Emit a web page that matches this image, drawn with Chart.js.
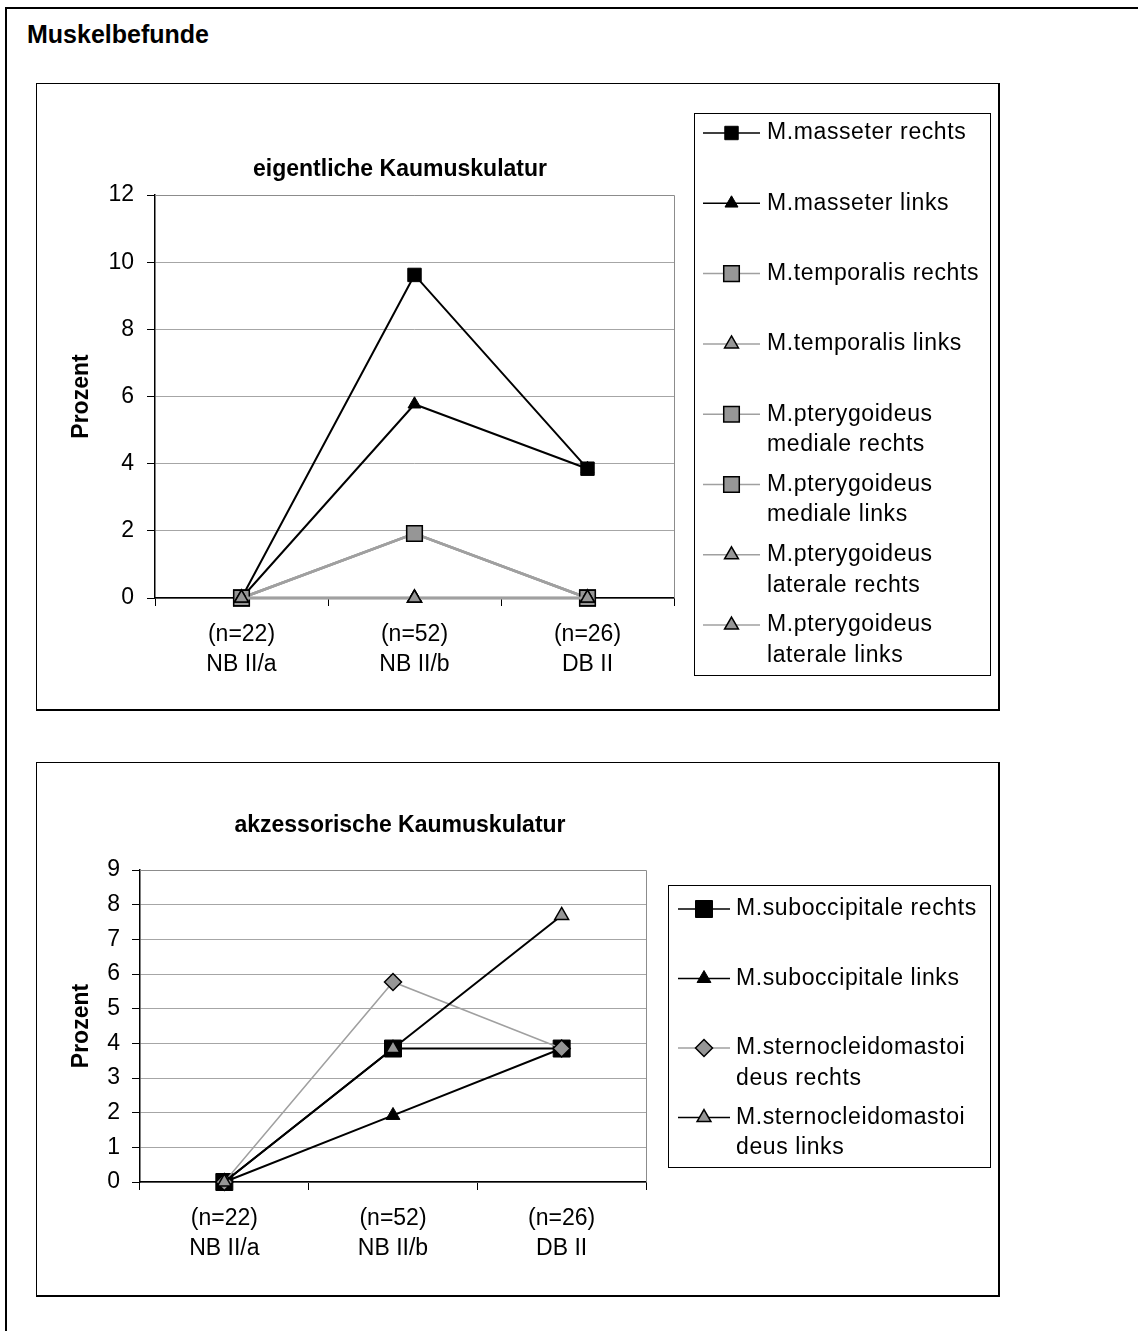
<!DOCTYPE html>
<html>
<head>
<meta charset="utf-8">
<script src="https://cdn.jsdelivr.net/npm/chart.js@4.4.1/dist/chart.umd.min.js"></script>
<style>
body { margin: 0; background: #fff; width: 1138px; height: 1331px; overflow: hidden; position: relative; font-family: 'Liberation Sans', Arial, sans-serif; }
#frame { position: absolute; left: 5px; top: 7px; width: 1200px; height: 1400px; border-left: 2px solid #000; border-top: 2px solid #000; }
#heading { position: absolute; left: 27px; top: 19px; font-weight: bold; font-size: 25px; line-height: 30px; }
.box { position: absolute; left: 36px; width: 964px; border: 1px solid #000; border-right-width: 2px; border-bottom-width: 2px; box-sizing: border-box; }
.box canvas { position: absolute; left: -1px; top: -1px; }
</style>
</head>
<body>
<div id="frame"></div>
<div id="heading">Muskelbefunde</div>
<div class="box" style="top:83px; height:628px;"><canvas id="chart-1" width="964" height="628"></canvas></div>
<div class="box" style="top:762px; height:535px;"><canvas id="chart-2" width="964" height="535"></canvas></div>
<script>
// groups on the x axis
const groups = ['NB II/a', 'NB II/b', 'DB II'];
const group_sizes = ['(n=22)', '(n=52)', '(n=26)'];

// eigentliche Kaumuskulatur (Prozent)
const masseter_rechts = [0, 9.62, 3.85];
const masseter_links = [0, 5.77, 3.85];
const temporalis_rechts = [0, 1.92, 0];
const temporalis_links = [0, 0, 0];
const pterygoideus_med_rechts = [0, 1.92, 0];
const pterygoideus_med_links = [0, 1.92, 0];
const pterygoideus_lat_rechts = [0, 0, 0];
const pterygoideus_lat_links = [0, 0, 0];

// akzessorische Kaumuskulatur (Prozent)
const suboccipitale_rechts = [0, 3.85, 3.85];
const suboccipitale_links = [0, 1.92, 3.85];
const sterno_rechts = [0, 5.77, 3.85];
const sterno_links = [0, 3.85, 7.69];

const FONT = "'Liberation Sans', Arial, sans-serif";
const BLACK = '#000000';
const GREY_LINE = '#a0a0a0';
const GREY_FILL = '#969696';

const labels = groups.map((g, i) => [group_sizes[i], g]);

const series = (label, data, line, line_width, style, radius, fill, border_width) => ({
	label: label,
	data: data,
	borderColor: line,
	borderWidth: line_width,
	pointStyle: style,
	pointRadius: radius,
	pointBackgroundColor: fill,
	pointBorderColor: BLACK,
	pointBorderWidth: border_width,
	clip: false,
	tension: 0
});

// excel draws later series on top
const set_order = (datasets) => {
	datasets.forEach((ds, i) => { ds.order = datasets.length - i; });
	return datasets;
};

const title_plugin = {
	id: 'title_text',
	afterDraw(chart, args, opts) {
		const ctx = chart.ctx;
		ctx.save();
		ctx.font = 'bold 23px ' + FONT;
		ctx.fillStyle = BLACK;
		ctx.textAlign = 'center';
		ctx.textBaseline = 'middle';
		ctx.fillText(opts.text, opts.x, opts.y);
		ctx.restore();
	}
};

const plot_frame = {
	id: 'plot_frame',
	beforeDatasetsDraw(chart) {
		const a = chart.chartArea;
		const ctx = chart.ctx;
		ctx.save();
		ctx.strokeStyle = '#8c8c8c';
		ctx.lineWidth = 1;
		ctx.beginPath();
		ctx.moveTo(a.left, a.top + 0.5);
		ctx.lineTo(Math.round(a.right) + 0.5, a.top + 0.5);
		ctx.lineTo(Math.round(a.right) + 0.5, a.bottom);
		ctx.stroke();
		ctx.restore();
	}
};

const line_legend = {
	id: 'line_legend',
	afterDraw(chart, args, opts) {
		const ctx = chart.ctx;
		const b = opts.box;
		ctx.save();
		ctx.strokeStyle = BLACK;
		ctx.lineWidth = 1;
		ctx.strokeRect(b[0] + 0.5, b[1] + 0.5, b[2] - b[0], b[3] - b[1]);
		chart.data.datasets.forEach((ds, i) => {
			const y = opts.first + i * opts.step;
			ctx.beginPath();
			ctx.strokeStyle = ds.borderColor;
			ctx.lineWidth = 1.5;
			ctx.moveTo(opts.line_from, y);
			ctx.lineTo(opts.line_to, y);
			ctx.stroke();
			ctx.fillStyle = ds.pointBackgroundColor;
			ctx.strokeStyle = ds.pointBorderColor;
			ctx.lineWidth = ds.pointBorderWidth;
			Chart.helpers.drawPoint(ctx, {
				pointStyle: ds.pointStyle, radius: ds.pointRadius, rotation: 0, borderWidth: ds.pointBorderWidth
			}, (opts.line_from + opts.line_to) / 2, y);
			ctx.fillStyle = BLACK;
			ctx.font = '23px ' + FONT;
			ctx.textBaseline = 'middle';
			ctx.letterSpacing = '0.6px';
			ds.label.split('\n').forEach((t, k) => ctx.fillText(t, opts.text_x, y + k * 30.5));
			ctx.letterSpacing = '0px';
		});
		ctx.restore();
	}
};

const make_scales = (y_max, y_step, y_width, x_height, label_pad) => ({
	x: {
		offset: true,
		grid: { offset: true, drawOnChartArea: false, drawTicks: true, tickLength: 8, tickColor: BLACK, lineWidth: 1 },
		border: { color: BLACK, width: 1.5 },
		ticks: { color: BLACK, font: { family: FONT, size: 23, lineHeight: 1.3 }, padding: 14, maxRotation: 0, autoSkip: false },
		afterFit: (s) => { s.height = x_height; }
	},
	y: {
		min: 0,
		max: y_max,
		grid: { color: '#a6a6a6', tickColor: BLACK, tickLength: 8, lineWidth: 1 },
		border: { color: BLACK, width: 1.5 },
		ticks: { stepSize: y_step, color: BLACK, font: { family: FONT, size: 23 }, padding: label_pad },
		title: { display: true, text: 'Prozent', color: BLACK, font: { family: FONT, size: 23, weight: 'bold' }, padding: { top: 32, bottom: 0 } },
		afterFit: (s) => { s.width = y_width; }
	}
});

new Chart(document.getElementById('chart-1'), {
	type: 'line',
	data: {
		labels: labels,
		datasets: set_order([
			series('M.masseter rechts', masseter_rechts, BLACK, 2, 'rect', 9.5, BLACK, 1),
			series('M.masseter links', masseter_links, BLACK, 2, 'triangle', 7.5, BLACK, 1),
			series('M.temporalis rechts', temporalis_rechts, GREY_LINE, 2.5, 'rect', 11, GREY_FILL, 1.5),
			series('M.temporalis links', temporalis_links, GREY_LINE, 2.5, 'triangle', 8, GREY_FILL, 1.5),
			series('M.pterygoideus\nmediale rechts', pterygoideus_med_rechts, GREY_LINE, 2.5, 'rect', 11, GREY_FILL, 1.5),
			series('M.pterygoideus\nmediale links', pterygoideus_med_links, GREY_LINE, 2.5, 'rect', 11, GREY_FILL, 1.5),
			series('M.pterygoideus\nlaterale rechts', pterygoideus_lat_rechts, GREY_LINE, 2.5, 'triangle', 8, GREY_FILL, 1.5),
			series('M.pterygoideus\nlaterale links', pterygoideus_lat_links, GREY_LINE, 2.5, 'triangle', 8, GREY_FILL, 1.5)
		])
	},
	options: {
		responsive: false,
		animation: false,
		layout: { padding: { left: 0, right: 326, top: 112, bottom: 0 } },
		plugins: {
			legend: { display: false },
			tooltip: { enabled: false },
			title_text: { text: 'eigentliche Kaumuskulatur', x: 364, y: 87 },
			line_legend: { box: [658, 30, 954, 592], first: 50, step: 70.3, line_from: 667, line_to: 724, text_x: 731 }
		},
		scales: make_scales(12, 2, 119, 113, 13)
	},
	plugins: [plot_frame, title_plugin, line_legend]
});

new Chart(document.getElementById('chart-2'), {
	type: 'line',
	data: {
		labels: labels,
		datasets: set_order([
			series('M.suboccipitale rechts', suboccipitale_rechts, BLACK, 2, 'rect', 12, BLACK, 1),
			series('M.suboccipitale links', suboccipitale_links, BLACK, 2, 'triangle', 8, BLACK, 1),
			series('M.sternocleidomastoi\ndeus rechts', sterno_rechts, GREY_LINE, 1.5, 'rectRot', 8.5, GREY_FILL, 1.5),
			series('M.sternocleidomastoi\ndeus links', sterno_links, BLACK, 2, 'triangle', 8, GREY_FILL, 1.5)
		])
	},
	options: {
		responsive: false,
		animation: false,
		layout: { padding: { left: 0, right: 354, top: 108, bottom: 0 } },
		plugins: {
			legend: { display: false },
			tooltip: { enabled: false },
			title_text: { text: 'akzessorische Kaumuskulatur', x: 364, y: 64 },
			line_legend: { box: [632, 123, 954, 405], first: 147, step: 69.5, line_from: 642, line_to: 694, text_x: 700 }
		},
		scales: make_scales(9, 1, 104, 115, 12)
	},
	plugins: [plot_frame, title_plugin, line_legend]
});
</script>
</body>
</html>
